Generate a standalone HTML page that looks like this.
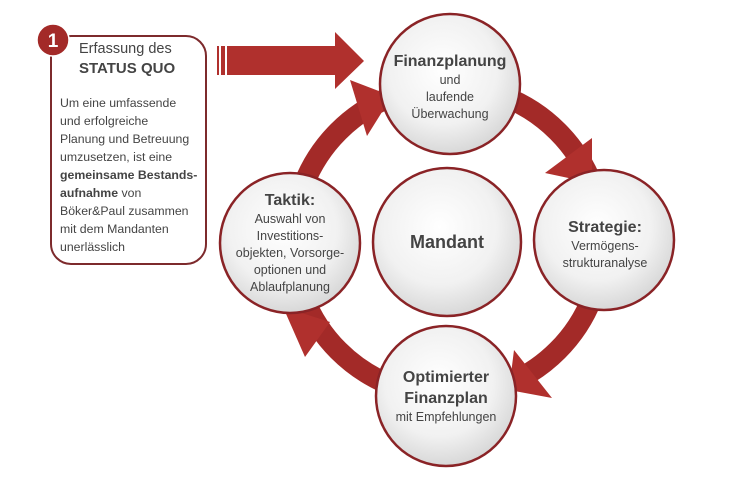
<!DOCTYPE html>
<html><head><meta charset="utf-8"><style>
body{margin:0;width:739px;height:484px;background:#fff;overflow:hidden;font-family:"Liberation Sans",sans-serif}
</style></head><body>
<svg width="739" height="484" viewBox="0 0 739 484" xmlns="http://www.w3.org/2000/svg">
<defs>
<radialGradient id="g" cx="0.45" cy="0.4" r="0.65">
<stop offset="0" stop-color="#ffffff"/><stop offset="0.6" stop-color="#f1f1f1"/><stop offset="1" stop-color="#d2d2d2"/>
</radialGradient>
</defs>
<circle cx="448" cy="241" r="155" fill="none" stroke="#a32a28" stroke-width="21"/>
<polygon points="350,80 367,136 392,96" fill="#b0302d"/>
<polygon points="592,138 545,173 592,183" fill="#b0302d"/>
<polygon points="514,350 509,390 552,398" fill="#b0302d"/>
<polygon points="330,322 283,307 305,357" fill="#b0302d"/>
<rect x="217" y="46" width="2" height="29" fill="#b0302d"/>
<rect x="221" y="46" width="4" height="29" fill="#b0302d"/>
<rect x="227" y="46" width="110" height="29" fill="#b0302d"/>
<polygon points="335,32 364,61 335,89" fill="#b0302d"/>
<g fill="url(#g)" stroke="#8a2326" stroke-width="2.5">
<circle cx="450" cy="84" r="70"/>
<circle cx="447" cy="242" r="74"/>
<circle cx="604" cy="240" r="70"/>
<circle cx="290" cy="243" r="70"/>
<circle cx="446" cy="396" r="70"/>
</g>
<g fill="#444" text-anchor="middle" font-family="Liberation Sans, sans-serif">
<text x="450" y="66" font-size="16" font-weight="bold">Finanzplanung</text>
<text x="450" y="84" font-size="12.5">und</text>
<text x="450" y="101" font-size="12.5">laufende</text>
<text x="450" y="118" font-size="12.5">Überwachung</text>
<text x="447" y="248" font-size="18" font-weight="bold">Mandant</text>
<text x="605" y="232" font-size="16" font-weight="bold">Strategie:</text>
<text x="605" y="250" font-size="12.5">Vermögens-</text>
<text x="605" y="267" font-size="12.5">strukturanalyse</text>
<text x="290" y="205" font-size="16" font-weight="bold">Taktik:</text>
<text x="290" y="223" font-size="12.5">Auswahl von</text>
<text x="290" y="240" font-size="12.5">Investitions-</text>
<text x="290" y="257" font-size="12.5">objekten, Vorsorge-</text>
<text x="290" y="274" font-size="12.5">optionen und</text>
<text x="290" y="291" font-size="12.5">Ablaufplanung</text>
<text x="446" y="382" font-size="16" font-weight="bold">Optimierter</text>
<text x="446" y="403" font-size="16" font-weight="bold">Finanzplan</text>
<text x="446" y="421" font-size="12.5">mit Empfehlungen</text>
</g>
<rect x="51" y="36" width="155" height="228" rx="20" fill="#fff" stroke="#7d2a2c" stroke-width="2"/>
<circle cx="53" cy="40" r="16" fill="#a32a28" stroke="#fff" stroke-width="1.5"/>
<text x="53" y="47" font-size="19" font-weight="bold" fill="#fff" text-anchor="middle">1</text>
<g fill="#444" font-family="Liberation Sans, sans-serif">
<text x="79" y="53" font-size="14.5">Erfassung des</text>
<text x="79" y="73" font-size="15" font-weight="bold">STATUS QUO</text>
<g font-size="12.3">
<text x="60" y="107">Um eine umfassende</text>
<text x="60" y="125">und erfolgreiche</text>
<text x="60" y="143">Planung und Betreuung</text>
<text x="60" y="161">umzusetzen,  ist eine</text>
<text x="60" y="179" font-weight="bold">gemeinsame Bestands-</text>
<text x="60" y="197"><tspan font-weight="bold">aufnahme</tspan> von</text>
<text x="60" y="215">Böker&amp;Paul zusammen</text>
<text x="60" y="233">mit dem Mandanten</text>
<text x="60" y="251">unerlässlich</text>
</g>
</g>
</svg>
</body></html>
